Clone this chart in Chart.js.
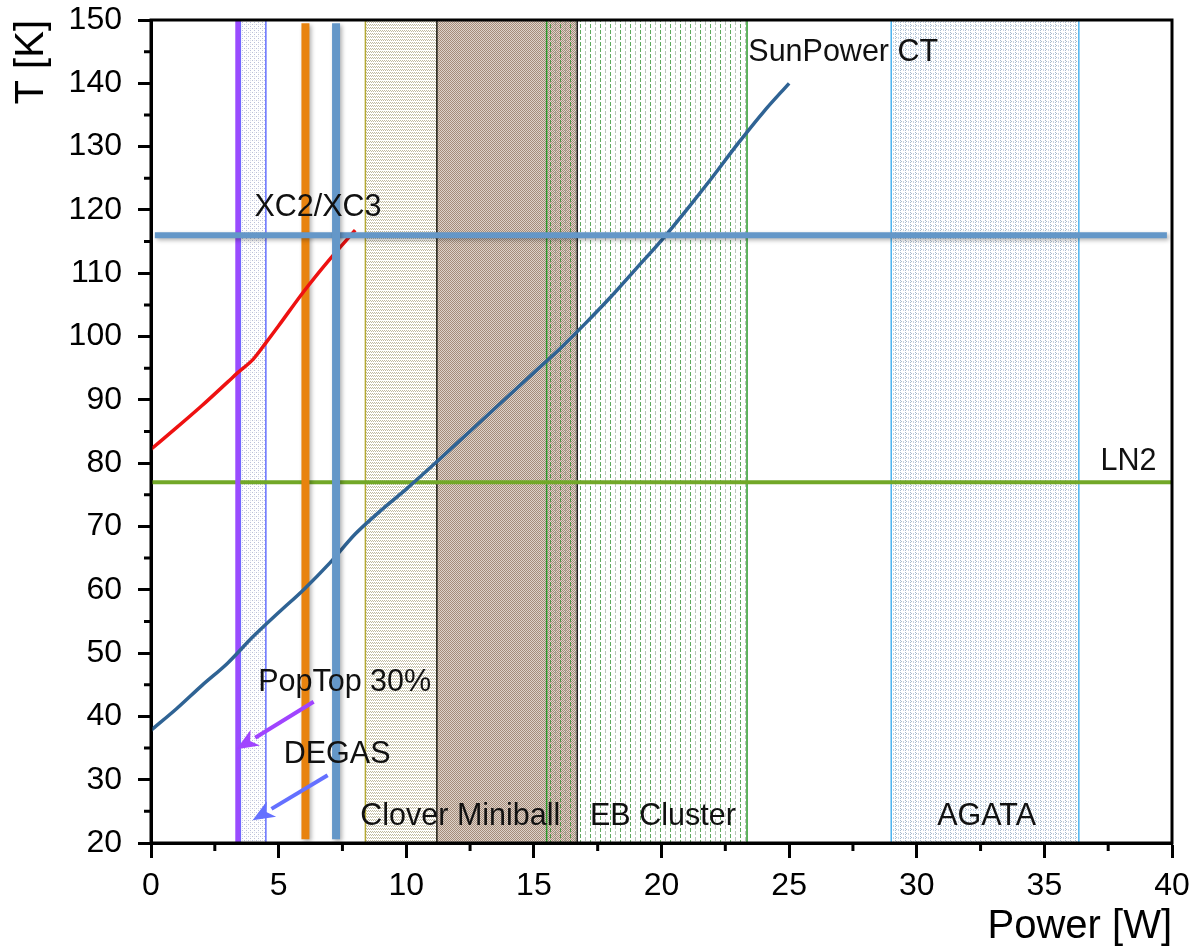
<!DOCTYPE html>
<html>
<head>
<meta charset="utf-8">
<script src="https://cdn.jsdelivr.net/npm/chart.js@4/dist/chart.umd.min.js"></script>
<style>
  html, body { margin: 0; padding: 0; background: #fff; }
  canvas { display: block; }
</style>
</head>
<body>
<canvas id="coolingChart" width="1192" height="951"></canvas>
<script>
// SunPower CT cooling curve
const sunPowerP = [0, 1, 2, 3, 4, 5, 6, 7, 8, 9, 10, 11, 12, 13, 14, 15, 16, 17, 18, 19, 20, 21, 22, 23, 24, 25];
const sunPowerT = [37.8, 41.2, 44.9, 48.4, 52.6, 56.4, 60.1, 64.2, 68.8, 72.5, 75.9, 79.5, 83.2, 86.9, 90.6, 94.3, 98, 102, 106.2, 110.7, 115.2, 120.1, 125.2, 130.5, 135.5, 140];

// XC2/XC3 cooling curve
const xcP = [0, 1, 2, 3, 3.4, 4, 4.5, 5, 6, 7, 8];
const xcT = [82.2, 85.6, 89.1, 92.8, 94.3, 96.4, 99, 101.7, 107.2, 112.2, 116.8];

// reference temperatures
const xcLevel = 116;
const xcLevelFrom = 0.15;
const xcLevelTo = 39.8;
const ln2Level = 77;

// single-power coolers (vertical lines)
const popTopPower = 3.4;
const degasLowPower = 6.05;
const degasHighPower = 7.25;

// detector heat-load ranges [W]
const regionNames = ['DEGAS', 'Clover', 'Miniball', 'EB Cluster', 'AGATA'];
const regionFrom = [3.5, 8.4, 11.2, 15.5, 29.0];
const regionTo = [4.5, 11.2, 16.7, 23.35, 36.35];

// annotations
const labelText = ['XC2/XC3', 'SunPower CT', 'LN2', 'PopTop 30%', 'DEGAS', 'Clover Miniball', 'EB Cluster', 'AGATA'];
const labelP = [4.05, 23.4, 37.2, 4.2, 5.2, 8.2, 17.2, 30.8];
const labelT = [120.3, 144.9, 80.2, 45.4, 33.9, 24.2, 24.2, 24.2];

const arrowFromP = [6.37, 6.92];
const arrowFromT = [42.3, 30.7];
const arrowToP = [3.35, 3.98];
const arrowToT = [34.8, 23.6];
const arrowColors = ['#a044ff', '#6470ff'];

const xTicksMinor = [2.5, 7.5, 12.5, 17.5, 22.5, 27.5, 32.5, 37.5];
const yTicksMinor = [25, 35, 45, 55, 65, 75, 85, 95, 105, 115, 125, 135, 145];

const FONT = '"Liberation Sans", Arial, Helvetica, sans-serif';

function pts(xs, ys) {
  return xs.map((x, i) => ({ x: x, y: ys[i] }));
}

function makePattern(w, h, paint) {
  const c = document.createElement('canvas');
  c.width = w;
  c.height = h;
  const g = c.getContext('2d');
  paint(g);
  return document.getElementById('coolingChart').getContext('2d').createPattern(c, 'repeat');
}

const patterns = [
  // DEGAS band: fine grey dots
  makePattern(4, 4, g => {
    g.fillStyle = 'rgba(120,130,180,0.5)';
    g.fillRect(0, 0, 1, 1);
    g.fillRect(2, 2, 1, 1);
    g.fillStyle = 'rgba(170,175,195,0.35)';
    g.fillRect(2, 0, 1, 1);
  }),
  // Clover: olive zig-zag rows
  makePattern(4, 3, g => {
    g.fillStyle = 'rgba(150,140,95,0.6)';
    g.fillRect(0, 0, 1, 1);
    g.fillRect(1, 1, 1, 1);
    g.fillRect(2, 0, 1, 1);
    g.fillRect(3, 1, 1, 1);
  }),
  // Miniball: brown checker
  makePattern(2, 2, g => {
    g.fillStyle = 'rgba(155,128,108,0.9)';
    g.fillRect(0, 0, 1, 1);
    g.fillRect(1, 1, 1, 1);
    g.fillStyle = 'rgba(218,206,196,0.9)';
    g.fillRect(1, 0, 1, 1);
    g.fillRect(0, 1, 1, 1);
  }),
  // EB Cluster: vertical green dashes
  makePattern(10, 6, g => {
    g.fillStyle = 'rgba(40,140,40,0.75)';
    g.fillRect(0, 0, 1, 4);
    g.fillStyle = 'rgba(130,150,130,0.55)';
    g.fillRect(5, 3, 1, 3);
    g.fillRect(5, 0, 1, 1);
  }),
  // AGATA: grey-blue dots
  makePattern(5, 4, g => {
    g.fillStyle = 'rgba(120,150,180,0.65)';
    g.fillRect(0, 0, 1, 1);
    g.fillRect(1, 1, 1, 1);
    g.fillRect(0, 2, 1, 1);
    g.fillStyle = 'rgba(150,170,195,0.5)';
    g.fillRect(3, 1, 1, 2);
  })
];
const regionBorders = ['#6470ff', '#b4a832', '#222222', '#2a9a2a', '#4cb4f0'];

const overlay = {
  id: 'overlay',
  beforeDatasetsDraw(chart) {
    const { ctx, scales: { x, y } } = chart;
    ctx.save();
    const top = y.getPixelForValue(150);
    const bottom = y.getPixelForValue(20);
    regionFrom.forEach((p, i) => {
      const left = x.getPixelForValue(p);
      const right = x.getPixelForValue(regionTo[i]);
      ctx.fillStyle = patterns[i];
      ctx.fillRect(left, top, right - left, bottom - top);
      ctx.strokeStyle = regionBorders[i];
      ctx.lineWidth = 1.5;
      ctx.strokeRect(left, top, right - left, bottom - top);
    });
    ctx.restore();
  },
  beforeDatasetDraw(chart, args) {
    const ds = chart.data.datasets[args.index];
    chart.ctx.save();
    if (ds.shadow) {
      chart.ctx.shadowColor = 'rgba(0,0,0,0.3)';
      chart.ctx.shadowBlur = 4;
      chart.ctx.shadowOffsetX = 2;
      chart.ctx.shadowOffsetY = 2;
    }
  },
  afterDatasetDraw(chart) {
    chart.ctx.restore();
  },
  afterDatasetsDraw(chart) {
    const { ctx, scales: { x, y } } = chart;
    ctx.save();
    // arrows
    arrowFromP.forEach((p, i) => {
      const x1 = x.getPixelForValue(p), y1 = y.getPixelForValue(arrowFromT[i]);
      const x2 = x.getPixelForValue(arrowToP[i]), y2 = y.getPixelForValue(arrowToT[i]);
      const a = Math.atan2(y2 - y1, x2 - x1);
      const head = 22, half = 9;
      const bx = x2 - head * Math.cos(a), by = y2 - head * Math.sin(a);
      ctx.strokeStyle = arrowColors[i];
      ctx.fillStyle = arrowColors[i];
      ctx.lineWidth = 4;
      ctx.beginPath();
      ctx.moveTo(x1, y1);
      ctx.lineTo(bx, by);
      ctx.stroke();
      ctx.beginPath();
      ctx.moveTo(x2, y2);
      ctx.lineTo(bx + half * Math.sin(a), by - half * Math.cos(a));
      ctx.lineTo(x2 - (head - 6) * Math.cos(a), y2 - (head - 6) * Math.sin(a));
      ctx.lineTo(bx - half * Math.sin(a), by + half * Math.cos(a));
      ctx.closePath();
      ctx.fill();
    });
    // labels
    ctx.fillStyle = '#111';
    ctx.font = '30.5px ' + FONT;
    ctx.textAlign = 'left';
    ctx.textBaseline = 'middle';
    labelText.forEach((t, i) => {
      ctx.fillText(t, x.getPixelForValue(labelP[i]), y.getPixelForValue(labelT[i]));
    });
    ctx.restore();
  },
  afterDraw(chart) {
    const { ctx, chartArea, scales: { x, y } } = chart;
    ctx.save();
    ctx.strokeStyle = '#000';
    ctx.lineWidth = 3;
    ctx.strokeRect(chartArea.left, chartArea.top, chartArea.right - chartArea.left, chartArea.bottom - chartArea.top);
    ctx.beginPath();
    xTicksMinor.forEach(v => {
      const px = x.getPixelForValue(v);
      ctx.moveTo(px, chartArea.bottom);
      ctx.lineTo(px, chartArea.bottom + 8);
    });
    yTicksMinor.forEach(v => {
      const py = y.getPixelForValue(v);
      ctx.moveTo(chartArea.left, py);
      ctx.lineTo(chartArea.left - 7, py);
    });
    ctx.stroke();
    ctx.restore();
  }
};

function line(data, color, width, extra) {
  return Object.assign({
    data: data,
    showLine: true,
    borderColor: color,
    backgroundColor: color,
    borderWidth: width,
    pointRadius: 0,
    tension: 0,
    fill: false
  }, extra || {});
}

const datasets = [
  line(pts([degasHighPower, degasHighPower], [20.6, 149.5]), '#6497c8', 8, { label: 'DEGAS high', shadow: true }),
  line(pts([xcLevelFrom, xcLevelTo], [xcLevel, xcLevel]), '#6497c8', 6, { label: 'XC2/XC3 level', shadow: true }),
  line(pts(xcP, xcT), '#ee1111', 3.5, { label: 'XC2/XC3', cubicInterpolationMode: 'monotone', tension: 0.4 }),
  line(pts(sunPowerP, sunPowerT), '#2f6394', 3.5, { label: 'SunPower CT', cubicInterpolationMode: 'monotone', tension: 0.4 }),
  line(pts([degasLowPower, degasLowPower], [20.6, 149.5]), '#e8830f', 8, { label: 'DEGAS low', shadow: true }),
  line(pts([popTopPower, popTopPower], [20, 150]), '#9a4cff', 5, { label: 'PopTop 30%' }),
  line(pts([0, 40], [ln2Level, ln2Level]), '#72a828', 4, { label: 'LN2' })
];

new Chart(document.getElementById('coolingChart'), {
  type: 'scatter',
  data: { datasets: datasets },
  plugins: [overlay],
  options: {
    responsive: false,
    animation: false,
    events: [],
    layout: { padding: { top: 20, right: 20, left: 0, bottom: 0 } },
    plugins: {
      legend: { display: false },
      tooltip: { enabled: false }
    },
    scales: {
      x: {
        type: 'linear',
        min: 0,
        max: 40,
        afterFit(scale) {
          scale.height = 108;
          scale.paddingLeft = 0;
          scale.paddingRight = 0;
        },
        ticks: { stepSize: 5, color: '#000', padding: 9, font: { family: FONT, size: 32 }, maxRotation: 0 },
        grid: { drawOnChartArea: false, tickLength: 15, tickWidth: 3, tickColor: '#000' },
        border: { display: true, color: '#000', width: 3 },
        title: { display: true, text: 'Power [W]', align: 'end', color: '#000', font: { family: FONT, size: 40 }, padding: { top: 0, bottom: 0 } }
      },
      y: {
        type: 'linear',
        min: 20,
        max: 150,
        afterFit(scale) {
          scale.width = 151;
          scale.paddingTop = 0;
          scale.paddingBottom = 0;
        },
        ticks: { stepSize: 10, color: '#000', padding: 16, font: { family: FONT, size: 32 } },
        grid: { drawOnChartArea: false, tickLength: 13, tickWidth: 3, tickColor: '#000' },
        border: { display: true, color: '#000', width: 3 },
        title: { display: true, text: 'T [K]', align: 'end', color: '#000', font: { family: FONT, size: 40 }, padding: { top: 8, bottom: 0 } }
      }
    }
  }
});
</script>
</body>
</html>
